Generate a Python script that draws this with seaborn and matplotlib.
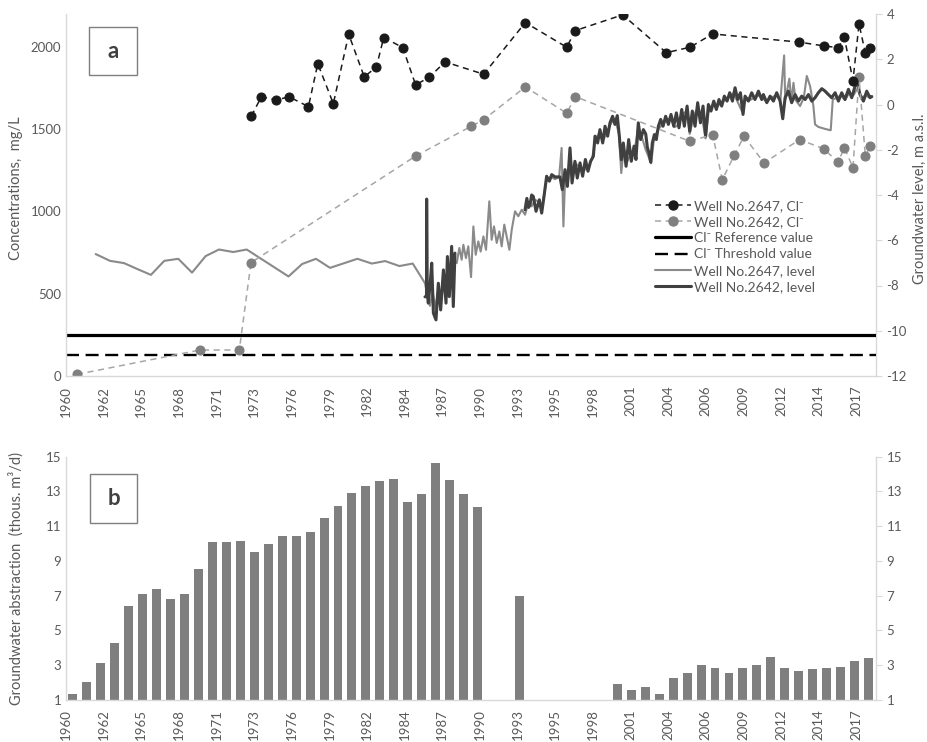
import numpy as np
import pandas as pd
import matplotlib
matplotlib.use("Agg")
import matplotlib.pyplot as plt
from matplotlib.lines import Line2D
from matplotlib.patches import Rectangle
import seaborn as sns

# ------------------------------------------------------------------ data
# Chloride concentration, mg/L (decimal year of sampling)
cl_2647_year = [1973.70, 1974.43, 1975.48, 1976.47, 1977.86, 1978.54, 1979.67, 1980.79,
                1981.92, 1982.80, 1983.34, 1984.72, 1985.66, 1986.65, 1987.80, 1990.61,
                1993.64, 1996.65, 1997.27, 2000.72, 2003.90, 2005.62, 2007.27, 2013.57,
                2015.37, 2016.39, 2016.85, 2017.48, 2017.92, 2018.38, 2018.72]
cl_2647_mgl = [1579, 1696, 1678, 1696, 1637, 1898, 1655, 2077, 1818, 1878, 2057, 1996,
               1769, 1816, 1909, 1834, 2148, 1998, 2099, 2195, 1965, 1998, 2079, 2029,
               2006, 1996, 2059, 1795, 2140, 1962, 1996]

cl_2642_year = [1961.02, 1969.97, 1972.83, 1973.68, 1985.66, 1989.71, 1990.61, 1993.64,
                1996.65, 1997.27, 2005.60, 2007.27, 2007.97, 2008.85, 2009.55, 2011.01,
                2013.60, 2015.37, 2016.39, 2016.85, 2017.48, 2017.92, 2018.38, 2018.72]
cl_2642_mgl = [10, 158, 158, 689, 1337, 1518, 1558, 1757, 1597, 1698, 1427, 1467, 1193,
               1343, 1457, 1295, 1437, 1380, 1299, 1388, 1266, 1818, 1336, 1396]

cl_reference = 250
cl_threshold = 125

# Groundwater level, m a.s.l.
level_2647_year = [
    1962.38, 1963.42, 1964.44, 1965.44, 1966.40, 1967.37, 1968.39, 1969.39, 1970.38,
    1971.35, 1972.39, 1973.37, 1976.41, 1977.40, 1978.41, 1979.43, 1981.42, 1982.47,
    1983.44, 1984.48, 1985.45,
    1986.34, 1986.50, 1986.70, 1986.90, 1987.10, 1987.30, 1987.50, 1987.70, 1987.90,
    1988.10, 1988.30, 1988.50, 1988.65, 1988.84, 1989.01, 1989.13, 1989.32, 1989.49,
    1989.69, 1989.86, 1990.03, 1990.22, 1990.39, 1990.59, 1990.78, 1991.02, 1991.19,
    1991.36, 1991.56, 1991.75, 1991.92, 1992.11, 1992.28, 1992.48, 1992.65, 1992.89,
    1993.13, 1993.38, 1993.62, 1993.86, 1994.10, 1994.35, 1994.60, 1994.85, 1995.00,
    1995.20, 1995.50, 1995.80, 1996.10, 1996.28, 1996.41, 1996.55, 1996.75, 1996.90,
    1997.10, 1997.30, 1997.60, 1997.90, 1998.20, 1998.50, 1998.75, 1999.00, 1999.30,
    1999.60, 1999.90, 2000.20, 2000.45, 2000.62, 2000.80, 2001.00, 2001.30, 2001.60,
    2001.85, 2002.10, 2002.40, 2002.60, 2002.80, 2003.00, 2003.30, 2003.60, 2003.90,
    2004.20, 2004.50, 2004.80, 2005.10, 2005.40, 2005.60, 2005.90, 2006.20, 2006.50,
    2006.75, 2007.00, 2007.30, 2007.60, 2007.90, 2008.20, 2008.50, 2008.80, 2009.10,
    2009.40, 2009.70, 2010.00, 2010.30, 2010.60, 2010.90, 2011.20, 2011.50, 2011.90,
    2012.20, 2012.47, 2012.55, 2012.85, 2013.00, 2013.15, 2013.30, 2013.63, 2013.90,
    2014.12, 2014.36, 2014.60, 2014.72, 2014.96, 2015.45, 2015.86, 2016.01, 2016.30,
    2016.60, 2016.90, 2017.20, 2017.50, 2017.80, 2018.10, 2018.40, 2018.70, 2018.85]
level_2647_m = [
    -6.61, -6.91, -7.01, -7.28, -7.53, -6.91, -6.82, -7.43, -6.70,
    -6.41, -6.52, -6.41, -7.60, -7.05, -6.82, -7.22, -6.82, -7.03,
    -6.92, -7.14, -7.03,
    -7.90, -8.40, -8.90, -8.30, -9.00, -8.20, -8.60, -7.60, -8.10,
    -7.30, -7.50, -6.90, -7.01, -6.34, -6.86, -6.20, -6.79, -6.27,
    -7.63, -5.39, -6.64, -6.05, -6.50, -5.83, -6.42, -4.28, -5.98,
    -5.39, -6.12, -5.61, -6.27, -5.31, -5.83, -6.42, -5.54, -4.72,
    -4.94, -4.65, -4.87, -4.35, -4.50, -4.21, -4.30, -4.60, -4.00,
    -3.30, -3.20, -3.30, -3.20, -1.92, -5.39, -3.00, -3.40, -2.20,
    -3.20, -2.60, -2.80, -2.90, -2.80, -2.40, -1.50, -1.30, -1.60,
    -1.20, -0.80, -0.70, -1.30, -3.03, -1.90, -2.60, -2.20, -2.00,
    -1.00, -1.40, -2.00, -2.30, -2.60, -1.50, -1.10, -0.90, -0.70,
    -0.60, -1.00, -0.90, -0.40, -0.30, -1.30, -0.50, -0.10, -0.60,
    -1.50, -0.20, 0.00, -0.10, 0.10, 0.20, 0.40, 0.50, 0.10,
    -0.30, 0.30, 0.20, 0.30, 0.40, 0.30, 0.10, 0.30, 0.40,
    0.20, 2.17, 0.20, 1.14, 0.10, 0.96, 0.20, -0.07, 0.30,
    1.26, 0.81, -0.07, -0.88, -0.99, -1.08, -1.14, 0.22, 0.30,
    0.40, 0.20, 0.50, 0.40, 0.70, 0.30, 0.40, 0.30, 0.35]

# NaN marks the break in monitoring of well 2642
level_2642_year = [
    1986.34, 1986.45, 1986.46, 1986.50, 1986.58, 1986.70, 1986.83, 1986.95, 1987.14,
    1987.31, 1987.48, 1987.68, 1987.87, 1987.97, 1988.11, 1988.28, 1988.40, 1988.52,
    np.nan,
    1993.62, 1993.75, 1993.88, 1993.98, 1994.10, 1994.22, 1994.42, 1994.66, 1994.83,
    1995.00, 1995.19, 1995.39, 1995.56, 1995.80, 1996.16, 1996.33, 1996.53, 1996.70,
    1996.89, 1997.04, 1997.25, 1997.42, 1997.62, 1997.81, 1998.01, 1998.20, 1998.39,
    1998.59, 1998.71, 1998.90, 1999.07, 1999.27, 1999.44, 1999.63, 1999.80, 1999.99,
    2000.16, 2000.33, 2000.48, 2000.63, 2000.77, 2000.97, 2001.16, 2001.35, 2001.55,
    2001.69, 2001.86, 2002.03, 2002.23, 2002.40, 2002.52, 2002.64, 2002.76, 2002.88,
    2003.03, 2003.17, 2003.32, 2003.49, 2003.66, 2003.85, 2004.05, 2004.24, 2004.44,
    2004.63, 2004.82, 2005.02, 2005.21, 2005.41, 2005.60, 2005.79, 2005.99, 2006.18,
    2006.38, 2006.57, 2006.76, 2006.96, 2007.15, 2007.35, 2007.54, 2007.73, 2007.93,
    2008.12, 2008.32, 2008.51, 2008.71, 2008.90, 2009.09, 2009.29, 2009.48, 2009.63,
    2009.87, 2010.11, 2010.35, 2010.60, 2010.84, 2010.96, 2011.21, 2011.45, 2011.69,
    2011.93, 2012.18, 2012.37, 2012.54, 2012.78, 2013.02, 2013.27, 2013.51, 2013.75,
    2014.00, 2014.24, 2014.48, 2014.72, 2014.96, 2015.21, 2015.45, 2015.69, 2015.93,
    2016.18, 2016.42, 2016.66, 2016.90, 2017.15, 2017.39, 2017.63, 2017.80, 2017.99,
    2018.24, 2018.48, 2018.72, 2018.85]
level_2642_m = [
    -8.50, -8.49, -4.18, -8.30, -8.78, -8.05, -7.01, -9.22, -9.52,
    -7.90, -9.08, -7.31, -8.78, -6.72, -8.49, -6.27, -8.93, -6.57,
    np.nan,
    -4.65, -4.15, -4.55, -4.43, -4.00, -4.06, -4.72, -4.21, -4.80,
    -4.06, -3.17, -3.39, -3.10, -3.20, -3.20, -3.76, -2.88, -3.62,
    -1.92, -3.47, -2.51, -3.25, -2.58, -3.17, -2.43, -2.95, -2.51,
    -2.29, -1.40, -1.70, -1.11, -1.70, -0.96, -1.40, -0.81, -0.52,
    -0.88, -0.49, -1.40, -2.44, -1.70, -2.73, -1.55, -2.51, -1.84,
    -2.43, -0.81, -1.55, -1.11, -1.30, -1.90, -2.14, -2.55, -1.70,
    -1.33, -1.55, -0.96, -0.66, -0.96, -0.52, -0.88, -0.44, -0.96,
    -0.37, -1.03, -0.22, -0.96, -0.07, -1.18, -0.29, -0.96, 0.08,
    -0.81, -0.07, -1.40, 0.00, -0.29, 0.15, -0.22, 0.22, -0.07,
    0.37, 0.15, 0.52, 0.15, 0.74, 0.22, 0.52, -0.44, 0.37,
    0.15, 0.52, 0.22, 0.59, 0.22, 0.44, 0.08, 0.37, 0.15,
    0.52, 0.15, -0.63, 0.30, 0.59, 0.08, 0.44, 0.15, 0.37,
    0.22, 0.44, 0.15, 0.30, 0.52, 0.70, 0.59, 0.44, 0.30,
    0.52, 0.15, 0.52, 0.22, 0.67, 0.30, 0.81, 0.96, 0.44,
    0.15, 0.59, 0.30, 0.35]

# Groundwater abstraction, thousand m3/day (no records 1991-92, 1994-99)
abstraction_year = [1961, 1962, 1963, 1964, 1965, 1966, 1967, 1968, 1969, 1970,
                    1971, 1972, 1973, 1974, 1975, 1976, 1977, 1978, 1979, 1980,
                    1981, 1982, 1983, 1984, 1985, 1986, 1987, 1988, 1989, 1990,
                    1993,
                    2000, 2001, 2002, 2003, 2004, 2005, 2006, 2007, 2008,
                    2009, 2010, 2011, 2012, 2013, 2014, 2015, 2016, 2017, 2018]
abstraction_kt = [1.35, 2.04, 3.09, 4.26, 6.40, 7.07, 7.38, 6.82, 7.09, 8.55,
                  10.10, 10.08, 10.12, 9.49, 9.95, 10.41, 10.43, 10.64, 11.49, 12.14,
                  12.93, 13.29, 13.60, 13.73, 12.39, 12.87, 14.65, 13.66, 12.83, 12.12,
                  6.99,
                  1.89, 1.58, 1.75, 1.35, 2.23, 2.56, 2.98, 2.84, 2.56,
                  2.83, 2.98, 3.44, 2.82, 2.67, 2.75, 2.83, 2.87, 3.23, 3.40]

date_tick_labels = ["1960", "1962", "1965", "1968", "1971", "1973", "1976", "1979",
                    "1982", "1984", "1987", "1990", "1993", "1995", "1998", "2001",
                    "2004", "2006", "2009", "2012", "2014", "2017"]

# ------------------------------------------------------------------ style
sns.set_style("white")
plt.rcParams["font.family"] = ["Lato", "DejaVu Sans"]
plt.rcParams["axes.unicode_minus"] = False

TXT = "#595959"
AX = "#d9d9d9"
DARK = "#404040"
MID = "#7f7f7f"

W, H = 928, 742
fig = plt.figure(figsize=(W / 100, H / 100), dpi=100)


def frame(l, t, r, b):
    return [l / W, 1 - b / H, (r - l) / W, (b - t) / H]


def style_axes(ax, left_ticks=0):
    ax.spines["top"].set_visible(False)
    for side in ("left", "right", "bottom"):
        ax.spines[side].set_color(AX)
        ax.spines[side].set_linewidth(1.0)
    ax.tick_params(axis="y", length=left_ticks, color=AX, labelcolor=TXT, labelsize=9.5)
    ax.tick_params(axis="x", direction="out", length=4, color=AX, labelcolor=TXT,
                   labelsize=9.5, labelrotation=90, pad=3)
    ax.grid(False)


# ------------------------------------------------------------------ panel a
ax_c = fig.add_axes(frame(66, 14, 876, 376))
ax_l = ax_c.twinx()
ax_c.set_zorder(ax_l.get_zorder() + 1)
ax_c.patch.set_visible(False)

# water levels (right axis)
sns.lineplot(x=level_2647_year, y=level_2647_m, ax=ax_l, color="#8a8a8a",
             linewidth=1.5, estimator=None, sort=False)
lv = pd.DataFrame({"year": level_2642_year, "m": level_2642_m})
lv["seg"] = lv["m"].isna().cumsum()
for _, seg in lv.dropna().groupby("seg"):
    sns.lineplot(data=seg, x="year", y="m", ax=ax_l, color=DARK, linewidth=2.2,
                 estimator=None, sort=False)

# chloride (left axis)
ax_c.axhline(cl_reference, color="black", linewidth=2.3)
ax_c.axhline(cl_threshold, color="black", linewidth=1.7, dashes=(5.5, 2.8))
sns.lineplot(x=cl_2642_year, y=cl_2642_mgl, ax=ax_c, color="#a6a6a6", linewidth=1.1,
             linestyle=(0, (4, 3)), marker="o", markersize=6.5,
             markerfacecolor=MID, markeredgecolor=MID, estimator=None, sort=False)
sns.lineplot(x=cl_2647_year, y=cl_2647_mgl, ax=ax_c, color="#1a1a1a", linewidth=1.1,
             linestyle=(0, (4, 3)), marker="o", markersize=6.5,
             markerfacecolor="#1a1a1a", markeredgecolor="#1a1a1a",
             estimator=None, sort=False)

x0_a = 1960.22
x1_a = x0_a + 810 / 13.744
ax_c.set_xlim(x0_a, x1_a)
ax_c.set_xticks([x0_a + k * 1000 / 365.25 for k in range(len(date_tick_labels))])
ax_c.set_xticklabels(date_tick_labels)
ax_c.set_ylim(0, 2200)
ax_c.set_yticks([0, 500, 1000, 1500, 2000])
ax_l.set_ylim(-12, 4)
ax_l.set_yticks(list(range(-12, 5, 2)))
ax_c.set_xlabel("")
for ax in (ax_c, ax_l):
    style_axes(ax)
ax_l.tick_params(axis="y", length=4, color=AX)
ax_c.spines["right"].set_visible(False)
ax_l.spines["left"].set_visible(False)
ax_l.spines["bottom"].set_visible(False)

ax_c.set_ylabel("Concentrations,  mg/L", color=TXT, fontsize=10.5,
                ha="center", va="center")
ax_c.yaxis.set_label_coords((16 - 66) / 810, 0.52)
ax_l.set_ylabel("Groundwater level, m a.s.l.", color=TXT, fontsize=10.5,
                ha="center", va="center", rotation=90)
ax_l.yaxis.set_label_coords((920 - 66) / 810, 0.49)

sup = "\u207b"
handles = [
    Line2D([], [], color="#1a1a1a", lw=1.1, ls=(0, (4, 3)), marker="o", ms=6.5),
    Line2D([], [], color="#a6a6a6", lw=1.1, ls=(0, (4, 3)), marker="o", ms=6.5,
           markerfacecolor=MID, markeredgecolor=MID),
    Line2D([], [], color="black", lw=2.3),
    Line2D([], [], color="black", lw=1.7, dashes=(5.5, 2.8)),
    Line2D([], [], color="#8a8a8a", lw=1.5),
    Line2D([], [], color=DARK, lw=2.2),
]
labels = [f"Well No.2647, Cl{sup}", f"Well No.2642, Cl{sup}",
          f"Cl{sup} Reference value", f"Cl{sup} Threshold value",
          "Well No.2647, level", "Well No.2642, level"]
leg = ax_c.legend(handles, labels, loc="upper left",
                  bbox_to_anchor=(655 / W, 1 - 200 / H), bbox_transform=fig.transFigure,
                  frameon=False, fontsize=10, handlelength=2.6, handletextpad=0.2,
                  labelspacing=0.3, borderpad=0, borderaxespad=0)
for t in leg.get_texts():
    t.set_color(TXT)

# ------------------------------------------------------------------ panel b
ax_b = fig.add_axes(frame(66, 456.7, 876, 699.7))
sns.barplot(x=abstraction_year, y=abstraction_kt, ax=ax_b, native_scale=True,
            color=MID, saturation=1, width=0.64, linewidth=0, errorbar=None)
ax_b.set_xlim(1960.52, 2018.53)
step_b = (1000 / 365.25) * (58.01 / (810 / 13.744))
ax_b.set_xticks([1960.52 + k * step_b for k in range(len(date_tick_labels))])
ax_b.set_xticklabels(date_tick_labels)
ax_b.set_ylim(1, 15)
ax_b.set_yticks(list(range(1, 16, 2)))
ax_b2 = ax_b.twinx()
ax_b2.set_ylim(1, 15)
ax_b2.set_yticks(list(range(1, 16, 2)))
for ax in (ax_b, ax_b2):
    style_axes(ax)
ax_b2.tick_params(axis="y", length=4, color=AX)
ax_b.spines["right"].set_visible(False)
ax_b2.spines["left"].set_visible(False)
ax_b2.spines["bottom"].set_visible(False)
ax_b.set_xlabel("")
ax_b.set_ylabel("Groundwater abstraction  (thous. m\u00b3/d)", color=TXT, fontsize=10.5,
                ha="center", va="center")
ax_b.yaxis.set_label_coords((16 - 66) / 810, 0.5)

# ------------------------------------------------------------------ panel tags
for tag, (l, t, r, b) in (("a", (89, 27, 137, 75)), ("b", (90, 474, 137, 523))):
    fig.add_artist(Rectangle((l / W, 1 - b / H), (r - l) / W, (b - t) / H,
                             transform=fig.transFigure, facecolor="white",
                             edgecolor=MID, linewidth=1.0, zorder=5))
    fig.text((l + r) / 2 / W, 1 - (t + b) / 2 / H, tag, ha="center", va="center",
             fontsize=16, fontweight="bold", color=DARK, zorder=6)

fig.savefig("out.png", dpi=100)
